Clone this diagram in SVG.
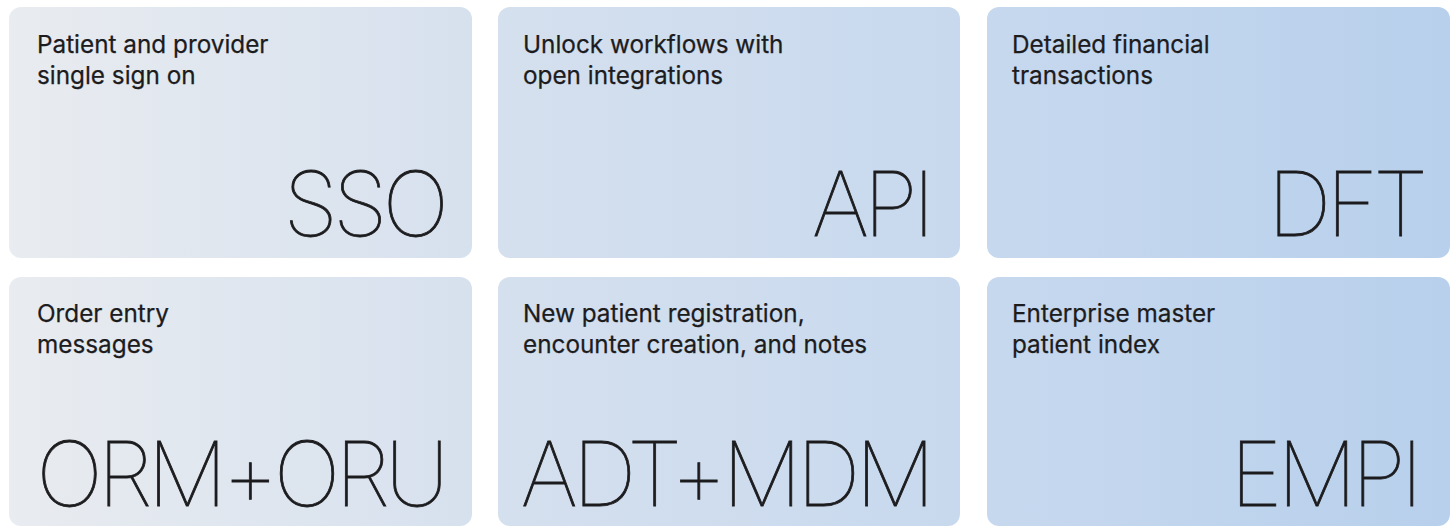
<svg xmlns="http://www.w3.org/2000/svg" width="1450" height="527" viewBox="0 0 1450 527">
  <defs>
    <linearGradient id="bg" gradientUnits="userSpaceOnUse" x1="0" y1="0" x2="1450" y2="0">
      <stop offset="0" stop-color="#e9ecf0"/>
      <stop offset="0.35" stop-color="#d5e0ee"/>
      <stop offset="0.7" stop-color="#c6d8ee"/>
      <stop offset="1" stop-color="#b8d0ec"/>
    </linearGradient>
    <style>
      .card { fill: url(#bg); }
      .head { font-family: Inter, "Liberation Sans", sans-serif; font-size: 24.3px; font-weight: 400; fill: #1c1c1e; stroke: #1c1c1e; stroke-width: 0.25px; }
      .big { font-family: Inter, "Liberation Sans", sans-serif; font-size: 89px; font-weight: 100; fill: #1c1c1e; stroke: #1c1c1e; stroke-width: 0.8px; letter-spacing: -5px; }
    </style>
  </defs>
  <rect width="1450" height="527" fill="#ffffff"/>
  <g id="node-sso">
    <rect class="card" x="9" y="7" width="463" height="251" rx="12"/>
    <text class="head" x="37" y="53">Patient and provider</text>
    <text class="head" x="37" y="84">single sign on</text>
    <text class="big" x="444" y="236" text-anchor="end">SSO</text>
  </g>
  <g id="node-api">
    <rect class="card" x="498" y="7" width="462" height="251" rx="12"/>
    <text class="head" x="523" y="53">Unlock workflows with</text>
    <text class="head" x="523" y="84">open integrations</text>
    <text class="big" x="930" y="236" text-anchor="end">API</text>
  </g>
  <g id="node-dft">
    <rect class="card" x="987" y="7" width="463" height="251" rx="12"/>
    <text class="head" x="1012" y="53">Detailed financial</text>
    <text class="head" x="1012" y="84">transactions</text>
    <text class="big" x="1423" y="236" text-anchor="end">DFT</text>
  </g>
  <g id="node-orm">
    <rect class="card" x="9" y="277" width="463" height="249" rx="12"/>
    <text class="head" x="37" y="322">Order entry</text>
    <text class="head" x="37" y="353">messages</text>
    <text class="big" x="444" y="506" text-anchor="end">ORM+ORU</text>
  </g>
  <g id="node-adt">
    <rect class="card" x="498" y="277" width="462" height="249" rx="12"/>
    <text class="head" x="523" y="322">New patient registration,</text>
    <text class="head" x="523" y="353">encounter creation, and notes</text>
    <text class="big" x="930" y="506" text-anchor="end">ADT+MDM</text>
  </g>
  <g id="node-empi">
    <rect class="card" x="987" y="277" width="463" height="249" rx="12"/>
    <text class="head" x="1012" y="322">Enterprise master</text>
    <text class="head" x="1012" y="353">patient index</text>
    <text class="big" x="1418" y="506" text-anchor="end">EMPI</text>
  </g>
  <g id="connectors"/>
</svg>
